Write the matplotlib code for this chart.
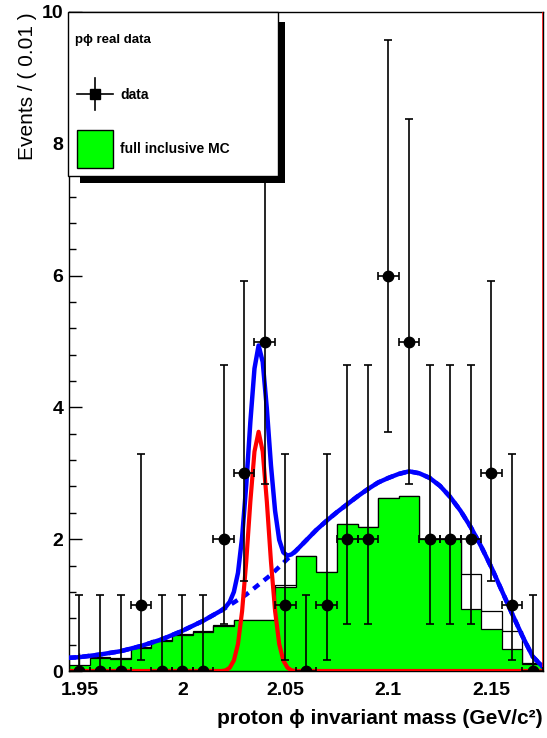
import matplotlib
matplotlib.use("Agg")
import matplotlib.pyplot as plt
from matplotlib.patches import Rectangle
from matplotlib.lines import Line2D
from matplotlib.ticker import FixedLocator, MultipleLocator
import numpy as np

plt.rcParams['font.family'] = ['Liberation Sans', 'DejaVu Sans']

# ---------------- data ----------------
bin_centers = [1.95, 1.96, 1.97, 1.98, 1.99, 2.00, 2.01, 2.02, 2.03, 2.04, 2.05, 2.06,
               2.07, 2.08, 2.09, 2.10, 2.11, 2.12, 2.13, 2.14, 2.15, 2.16, 2.17]
bin_edges = [1.945, 1.955, 1.965, 1.975, 1.985, 1.995, 2.005, 2.015, 2.025, 2.035, 2.045,
             2.055, 2.065, 2.075, 2.085, 2.095, 2.105, 2.115, 2.125, 2.135, 2.145, 2.155,
             2.165, 2.175]
data_counts = [0, 0, 0, 1, 0, 0, 0, 2, 3, 5, 1, 0, 1, 2, 2, 6, 5, 2, 2, 2, 3, 1, 0]
err_low = [0, 0, 0, 0.83, 0, 0, 0, 1.29, 1.63, 2.16, 0.83, 0, 0.83, 1.29, 1.29, 2.38,
           2.16, 1.29, 1.29, 1.29, 1.63, 0.83, 0]
err_high = [1.15, 1.15, 1.15, 2.30, 1.15, 1.15, 1.15, 2.64, 2.92, 3.38, 2.30, 1.15, 2.30,
            2.64, 2.64, 3.58, 3.38, 2.64, 2.64, 2.64, 2.92, 2.30, 1.15]
x_half_width = 0.005

mc_outline = [0.22, 0.21, 0.19, 0.37, 0.47, 0.56, 0.60, 0.70, 0.77, 0.77, 1.30, 1.74,
              1.50, 2.23, 2.18, 2.62, 2.65, 2.00, 2.00, 1.47, 0.91, 0.61, 0.12]
mc_fill = [0.09, 0.20, 0.18, 0.35, 0.45, 0.55, 0.59, 0.69, 0.77, 0.77, 1.28, 1.74,
           1.50, 2.23, 2.18, 2.62, 2.65, 2.00, 2.00, 0.94, 0.64, 0.33, 0.10]

curve_x = [1.945, 1.95, 1.96, 1.97, 1.98, 1.99, 2.00, 2.01,
           2.019, 2.021, 2.023, 2.025, 2.027, 2.029, 2.031, 2.033, 2.035, 2.037, 2.039,
           2.041, 2.043, 2.045, 2.047, 2.049, 2.051, 2.053, 2.055,
           2.06, 2.065, 2.07, 2.075, 2.08, 2.085, 2.09, 2.095, 2.10, 2.105, 2.11, 2.115,
           2.12, 2.125, 2.13, 2.135, 2.14, 2.145, 2.15, 2.155, 2.16, 2.165, 2.17, 2.175]
background_curve = [0.20, 0.21, 0.25, 0.30, 0.38, 0.48, 0.61, 0.76,
                    0.92, 0.96, 1.00, 1.04, 1.08, 1.12, 1.16, 1.21, 1.26, 1.31, 1.36,
                    1.41, 1.46, 1.52, 1.58, 1.64, 1.70, 1.76, 1.82,
                    1.98, 2.14, 2.28, 2.41, 2.53, 2.65, 2.76, 2.86, 2.93, 2.99, 3.03, 3.00,
                    2.93, 2.81, 2.64, 2.43, 2.18, 1.89, 1.57, 1.22, 0.87, 0.53, 0.22, 0.06]
signal_curve = [0, 0, 0, 0, 0, 0, 0, 0,
                0.0, 0.01, 0.05, 0.16, 0.41, 0.91, 1.66, 2.57, 3.33, 3.63, 3.33,
                2.57, 1.66, 0.91, 0.41, 0.16, 0.05, 0.01, 0.0,
                0, 0, 0, 0, 0, 0, 0, 0, 0, 0, 0, 0,
                0, 0, 0, 0, 0, 0, 0, 0, 0, 0, 0, 0]

x_ticks = [1.95, 2.0, 2.05, 2.1, 2.15]
x_tick_labels = ["1.95", "2", "2.05", "2.1", "2.15"]
y_ticks = [0, 2, 4, 6, 8, 10]
y_tick_labels = ["0", "2", "4", "6", "8", "10"]

# ---------------- figure ----------------
W, H = 547, 738
fig = plt.figure(figsize=(W / 100, H / 100), dpi=100)

def fx(px):
    return px / W

def fy(py):
    return 1 - py / H

ax_l, ax_r, ax_t, ax_b = 69, 543, 12, 671
ax = fig.add_axes([fx(ax_l), fy(ax_b), (ax_r - ax_l) / W, (ax_b - ax_t) / H])
ax.set_xlim(1.945, 2.175)
ax.set_ylim(0, 10)

# histograms
ax.stairs(mc_outline, bin_edges, fill=False, color='black', lw=0.9, zorder=1)
ax.stairs(mc_fill, bin_edges, fill=True, facecolor='#00ff00', edgecolor='black',
          lw=0.9, zorder=2)

# curves
total_curve = np.array(background_curve) + np.array(signal_curve)
ax.plot(curve_x, background_curve, color='#0000ff', lw=3.2, ls=(0, (1.6, 1.4)),
        zorder=3)
ax.plot(curve_x, total_curve, color='#0000ff', lw=3.2, zorder=4,
        solid_joinstyle='round')
ax.plot(curve_x, signal_curve, color='#ff0000', lw=3.0, zorder=5,
        solid_joinstyle='round')
ax.plot([2.1748, 2.1748], [0, 10], color='#ff0000', lw=1.1, zorder=5)

# data
ax.errorbar(bin_centers, data_counts, yerr=[err_low, err_high], xerr=x_half_width,
            fmt='o', color='black', ms=7.5, elinewidth=1.2, capsize=2.8,
            capthick=1.2, zorder=6)

# axes styling
ax.xaxis.set_major_locator(FixedLocator(x_ticks))
ax.set_xticklabels(x_tick_labels)
ax.xaxis.set_minor_locator(MultipleLocator(0.01))
ax.yaxis.set_major_locator(FixedLocator(y_ticks))
ax.set_yticklabels(y_tick_labels)
ax.yaxis.set_minor_locator(MultipleLocator(0.4))
ax.tick_params(axis='x', which='major', direction='in', length=13, width=1.0,
               labelsize=14, pad=8, top=False)
ax.tick_params(axis='x', which='minor', direction='in', length=7, width=1.0, top=False)
ax.tick_params(axis='y', which='major', direction='in', length=9, width=1.0,
               labelsize=14, pad=4, right=False)
ax.tick_params(axis='y', which='minor', direction='in', length=5, width=1.0, right=False)
for lab in ax.get_xticklabels() + ax.get_yticklabels():
    lab.set_fontweight('bold')
for sp in ax.spines.values():
    sp.set_linewidth(1.0)

# axis titles
fig.text(fx(543), fy(718), "proton ϕ invariant mass (GeV/c²)", ha='right',
         va='center', fontsize=15, fontweight='bold')
fig.text(fx(28), fy(12), "Events / ( 0.01 )", rotation=90, ha='center', va='top',
         fontsize=15)

# ---------------- legend box ----------------
lx0, ly0, lx1, ly1 = 68, 12, 278, 176
sh = 7
fig.add_artist(Rectangle((fx(lx1), fy(ly1 + sh)), sh / W, (ly1 + sh - 22) / H,
                         transform=fig.transFigure, facecolor='black',
                         edgecolor='none', zorder=10))
fig.add_artist(Rectangle((fx(80), fy(ly1 + sh)), (lx1 + sh - 80) / W, sh / H,
                         transform=fig.transFigure, facecolor='black',
                         edgecolor='none', zorder=10))
fig.add_artist(Rectangle((fx(lx0), fy(ly1)), (lx1 - lx0) / W, (ly1 - ly0) / H,
                         transform=fig.transFigure, facecolor='white',
                         edgecolor='black', lw=1.0, zorder=11))
fig.text(fx(75), fy(40), "pϕ real data", ha='left', va='center', fontsize=9.5,
         fontweight='bold', zorder=12)
# data entry
fig.add_artist(Line2D([fx(77), fx(113)], [fy(94), fy(94)], transform=fig.transFigure,
                      color='black', lw=1.2, zorder=12))
fig.add_artist(Line2D([fx(95), fx(95)], [fy(78), fy(110)], transform=fig.transFigure,
                      color='black', lw=1.2, zorder=12))
fig.add_artist(Line2D([fx(95)], [fy(94)], transform=fig.transFigure, marker='s',
                      ms=6.5, color='black', zorder=13))
fig.text(fx(120), fy(95), "data", ha='left', va='center', fontsize=10,
         fontweight='bold', zorder=12)
# MC entry
fig.add_artist(Rectangle((fx(77), fy(168)), 36 / W, 38 / H, transform=fig.transFigure,
                         facecolor='#00ff00', edgecolor='black', lw=1.0, zorder=12))
fig.text(fx(120), fy(149), "full inclusive MC", ha='left', va='center', fontsize=10,
         fontweight='bold', zorder=12)

fig.savefig("out.png", dpi=100)
